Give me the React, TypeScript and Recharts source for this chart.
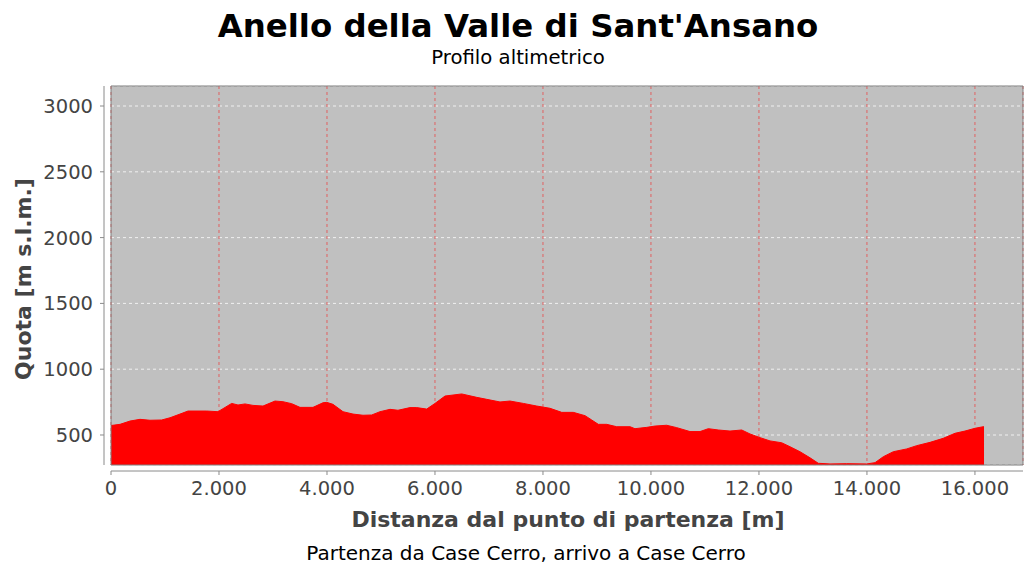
import { AreaChart, Area, XAxis, YAxis, CartesianGrid, ReferenceArea } from "recharts";

// distance from start [m]
const distances = [
  0, 167, 352, 537, 722, 939, 1093, 1278, 1426, 1772, 1982, 2235, 2352, 2482,
  2630, 2815, 3037, 3185, 3347, 3500, 3741, 3926, 3995, 4111, 4297, 4482, 4667,
  4828, 4982, 5167, 5315, 5537, 5662, 5847, 6000, 6186, 6495, 6773, 6958, 7204,
  7389, 7636, 7884, 8130, 8347, 8562, 8778, 8903, 9025, 9180, 9366, 9612, 9704,
  9921, 10075, 10291, 10477, 10723, 10908, 11062, 11247, 11464, 11681, 11834,
  12020, 12205, 12421, 12575, 12760, 12945, 13099, 13316, 13625, 13996, 14150,
  14303, 14488, 14736, 14922, 15168, 15414, 15631, 15816, 16001, 16155, 16168,
];

// altitude [m s.l.m.]
const altitudes = [
  572, 581, 606, 619, 612, 614, 631, 659, 682, 682, 677, 740, 728, 736,
  725, 720, 758, 753, 738, 710, 710, 745, 748, 733, 677, 659, 650,
  652, 677, 695, 688, 708, 708, 697, 740, 796, 812, 786, 771, 751,
  758, 740, 720, 703, 672, 672, 647, 614, 581, 581, 563, 563, 548,
  558, 568, 574, 556, 526, 526, 548, 538, 530, 538, 508,
  480, 455, 441, 411, 373, 327, 285, 280, 282, 280, 290,
  335, 373, 394, 419, 444, 475, 513, 530, 551, 563, 565,
];

const xTicks = [0, 2000, 4000, 6000, 8000, 10000, 12000, 14000, 16000];
const yTicks = [500, 1000, 1500, 2000, 2500, 3000];

const data = distances.map((d, i) => ({ dist: d, quota: altitudes[i] }));

const FONT = "'DejaVu Sans', sans-serif";
const X_MAX = 16890;
const Y_MIN = 272;
const Y_MAX = 3152;

const fmt = (v: number) => String(v).replace(/\B(?=(\d{3})+(?!\d))/g, ".");

const XTick = ({ x, y, payload }: any) => (
  <text x={x} y={y + 26} textAnchor="middle" fontSize={19.5} fontFamily={FONT} fill="#444">
    {fmt(payload.value)}
  </text>
);

const YTick = ({ x, y, payload }: any) => (
  <text x={x - 14} y={y + 7} textAnchor="end" fontSize={19.5} fontFamily={FONT} fill="#444">
    {payload.value}
  </text>
);

export default function App() {
  return (
    <div style={{ position: "absolute", left: 0, top: 0, width: 1025, height: 564, background: "#fff" }}>
      <AreaChart
        width={1025}
        height={564}
        data={data}
        margin={{ top: 86, right: 2, left: 0, bottom: 0 }}
      >
        <CartesianGrid
          vertical={false}
          fill="#c0c0c0"
          fillOpacity={1}
          stroke="#f0f0f0"
          strokeDasharray="3 3"
        />
        <CartesianGrid horizontal={false} stroke="#e06060" strokeDasharray="3 3" />
        <XAxis
          dataKey="dist"
          type="number"
          domain={[0, X_MAX]}
          ticks={xTicks}
          height={99}
          tickSize={4}
          tickMargin={0}
          axisLine={{ stroke: "#8a8a8a", transform: "translate(0,6)" }}
          tickLine={{ stroke: "#8a8a8a", transform: "translate(0,6)" }}
          tick={<XTick />}
        />
        <YAxis
          type="number"
          domain={[Y_MIN, Y_MAX]}
          ticks={yTicks}
          width={111}
          tickSize={4}
          tickMargin={0}
          axisLine={{ stroke: "#8a8a8a", transform: "translate(-7,0)" }}
          tickLine={{ stroke: "#8a8a8a", transform: "translate(-7,0)" }}
          tick={<YTick />}
        />
        <Area
          dataKey="quota"
          type="linear"
          fill="#ff0000"
          fillOpacity={1}
          stroke="#ff0000"
          strokeWidth={1}
          isAnimationActive={false}
        />
        <ReferenceArea
          x1={0}
          x2={X_MAX}
          y1={Y_MIN}
          y2={Y_MAX}
          fill="none"
          stroke="#808080"
          strokeWidth={1}
        />
      </AreaChart>
      <svg
        width={1025}
        height={564}
        style={{ position: "absolute", left: 0, top: 0, pointerEvents: "none" }}
      >
        <text x={518} y={37} textAnchor="middle" fontSize={32.4} fontWeight="bold" fontFamily={FONT} fill="#000">
          Anello della Valle di Sant'Ansano
        </text>
        <text x={518} y={64} textAnchor="middle" fontSize={19.7} fontFamily={FONT} fill="#000">
          Profilo altimetrico
        </text>
        <text x={568} y={527} textAnchor="middle" fontSize={22} fontWeight="bold" fontFamily={FONT} fill="#444">
          Distanza dal punto di partenza [m]
        </text>
        <text x={526} y={560} textAnchor="middle" fontSize={20} fontFamily={FONT} fill="#000">
          Partenza da Case Cerro, arrivo a Case Cerro
        </text>
        <text
          x={0}
          y={0}
          transform="translate(31,279) rotate(-90)"
          textAnchor="middle"
          fontSize={22}
          fontWeight="bold"
          fontFamily={FONT}
          fill="#444"
        >
          Quota [m s.l.m.]
        </text>
      </svg>
    </div>
  );
}
